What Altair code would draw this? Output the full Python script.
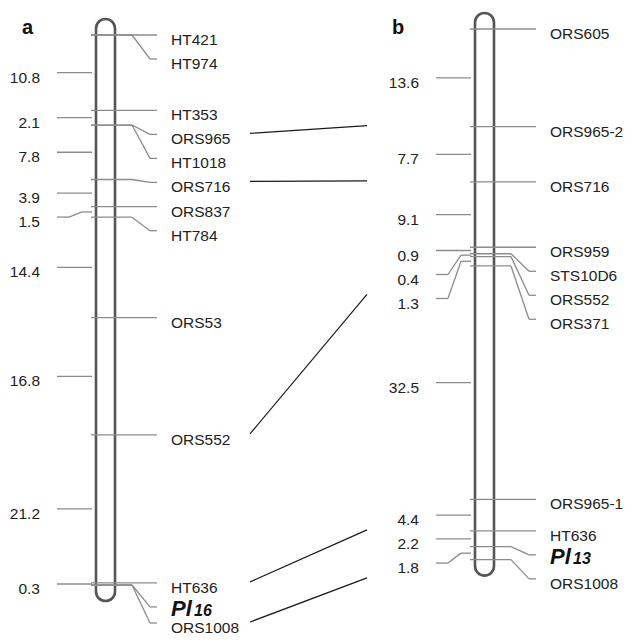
import altair as alt
import pandas as pd

# ---------------- data ----------------
# chromosome a : loci (markers sharing a position) and intervals (cM) between them
a_loci = [["HT421", "HT974"], ["HT353"], ["ORS965", "HT1018"], ["ORS716"], ["ORS837"],
          ["HT784"], ["ORS53"], ["ORS552"], ["HT636"], ["Pl16", "ORS1008"]]
a_intervals = [10.8, 2.1, 7.8, 3.9, 1.5, 14.4, 16.8, 21.2, 0.3]

# chromosome b
b_loci = [["ORS605"], ["ORS965-2"], ["ORS716"], ["ORS959"], ["STS10D6"], ["ORS552"],
          ["ORS371"], ["ORS965-1"], ["HT636"], ["Pl13"], ["ORS1008"]]
b_intervals = [13.6, 7.7, 9.1, 0.9, 0.4, 1.3, 32.5, 4.4, 2.2, 1.8]

# common markers linked between the two maps
links = [("ORS965", "ORS965-2"), ("ORS716", "ORS716"), ("ORS552", "ORS552"),
         ("HT636", "HT636"), ("ORS1008", "ORS1008")]

gene_names = {"Pl16": ("Pl", "16"), "Pl13": ("Pl", "13")}

# ---------------- layout (drawing units, px) ----------------
layout = {
    "a": dict(loci=a_loci, intervals=a_intervals, left=96, top=35, k=6.98, lx=-74),
    "b": dict(loci=b_loci, intervals=b_intervals, left=475, top=29, k=7.18, lx=-83),
}
GAP = 24
CW = 19
YMAX = 628

segs, texts, genes, chroms, letters = [], [], [], [], []
text_y = {"a": {}, "b": {}}


def spread(vals):
    out, prev = [], None
    for v in vals:
        L = v if prev is None else max(v, prev + GAP)
        out.append(L)
        prev = L
    return out


for name, c in layout.items():
    left, top, k = c["left"], c["top"], c["k"]
    pos = [0.0]
    for d in c["intervals"]:
        pos.append(pos[-1] + d)
    ticks = [top + k * p for p in pos]
    chroms.append(dict(x=left, x2=left + CW, y=ticks[0] - 16, y2=ticks[-1] + 16))
    letters.append(dict(x=left + c["lx"], y=28, t=name))

    # markers (right side)
    flat = []
    for t, group in zip(ticks, c["loci"]):
        for m in group:
            flat.append((m, t))
    Ls = spread([t for _, t in flat])
    for (m, t), L in zip(flat, Ls):
        ty = min(L + 5, YMAX)
        L = ty - 5
        text_y[name][m] = ty
        if L - t < 2.5:
            segs.append(dict(x=left - 5, y=t, x2=left + 61, y2=t, c="tick"))
        else:
            segs.append(dict(x=left - 5, y=t, x2=left + 36, y2=t, c="tick"))
            segs.append(dict(x=left + 36, y=t, x2=left + 54, y2=L, c="tick"))
            segs.append(dict(x=left + 54, y=L, x2=left + 61, y2=L, c="tick"))
        if m in gene_names:
            genes.append(dict(x=left + 75, y=L + 9, t=gene_names[m][0], s=22))
            genes.append(dict(x=left + 98, y=L + 9, t=gene_names[m][1], s=16))
        else:
            texts.append(dict(x=left + 75, y=ty, t=m, a="left"))

    # intervals (left side)
    mids = [(ticks[i] + ticks[i + 1]) / 2 for i in range(len(c["intervals"]))]
    Lm = spread(mids)
    for d, mm, L in zip(c["intervals"], mids, Lm):
        if L - mm < 2.5:
            segs.append(dict(x=left - 39, y=mm, x2=left - 4, y2=mm, c="tick"))
        else:
            segs.append(dict(x=left - 4, y=mm, x2=left - 14, y2=mm, c="tick"))
            segs.append(dict(x=left - 14, y=mm, x2=left - 27, y2=L, c="tick"))
            segs.append(dict(x=left - 27, y=L, x2=left - 39, y2=L, c="tick"))
        texts.append(dict(x=left - 56, y=L + 5, t=f"{d:.1f}", a="right"))

for ma, mb in links:
    segs.append(dict(x=250, y=text_y["a"][ma] - 6, x2=367, y2=text_y["b"][mb] - 6, c="link"))

seg_df = pd.DataFrame(segs)
txt_df = pd.DataFrame(texts)
gene_df = pd.DataFrame(genes)
chr_df = pd.DataFrame(chroms)
let_df = pd.DataFrame(letters)

X = alt.X("x:Q", scale=alt.Scale(domain=[8, 624]), axis=None)
Y = alt.Y("y:Q", scale=alt.Scale(domain=[8, 635], reverse=True), axis=None)

chrom_layer = alt.Chart(chr_df).mark_rect(
    cornerRadius=9.5, fill="white", stroke="#555555", strokeWidth=2.6
).encode(x=X, x2="x2:Q", y=Y, y2="y2:Q")

seg_layer = alt.Chart(seg_df).mark_rule().encode(
    x=X, x2="x2:Q", y=Y, y2="y2:Q",
    color=alt.Color("c:N", scale=alt.Scale(domain=["tick", "link"], range=["#8c8c8c", "#1a1a1a"]), legend=None),
    strokeWidth=alt.StrokeWidth("c:N", scale=alt.Scale(domain=["tick", "link"], range=[1.3, 1.2]), legend=None),
)

txt_left = alt.Chart(txt_df[txt_df.a == "left"]).mark_text(
    align="left", baseline="middle", font="Liberation Sans", fontSize=15.5, color="#222222"
).encode(x=X, y=Y, text="t:N")

txt_right = alt.Chart(txt_df[txt_df.a == "right"]).mark_text(
    align="right", baseline="middle", font="Liberation Sans", fontSize=15.5, color="#222222"
).encode(x=X, y=Y, text="t:N")

gene_layer = alt.Chart(gene_df).mark_text(
    align="left", baseline="alphabetic", font="Liberation Sans", fontWeight="bold",
    fontStyle="italic", color="#111111"
).encode(x=X, y=Y, text="t:N", size=alt.Size("s:Q", scale=None, legend=None))

letter_layer = alt.Chart(let_df).mark_text(
    align="left", baseline="middle", font="Liberation Sans", fontWeight="bold", fontSize=20, color="#111111"
).encode(x=X, y=Y, text="t:N")

chart = alt.layer(chrom_layer, seg_layer, txt_left, txt_right, gene_layer, letter_layer).properties(
    width=616, height=627, padding=0, autosize=alt.AutoSizeParams(type="none")
).configure_view(stroke=None)

chart.save("out.html", embed_options={"renderer": "svg", "actions": False})
